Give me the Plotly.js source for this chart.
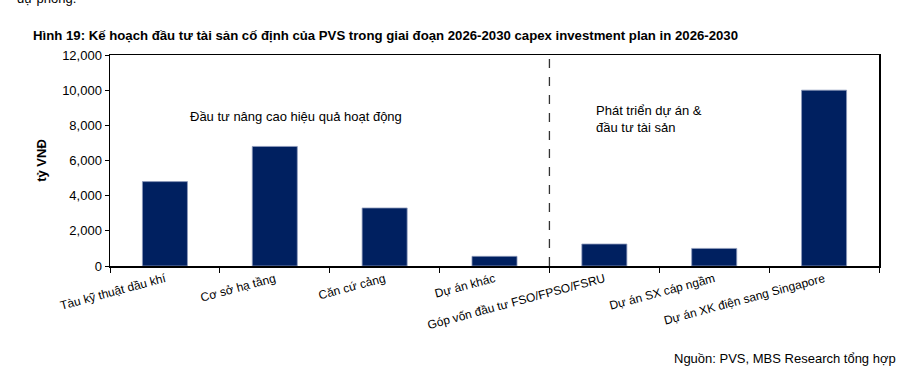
<!DOCTYPE html>
<html>
<head>
<meta charset="utf-8">
<script src="https://cdn.plot.ly/plotly-3.0.1.min.js"></script>
<style>html,body{margin:0;padding:0;background:#fff;}</style>
</head>
<body>
<div id="chart" style="width:923px;height:381px;"></div>
<script>
const categories = [
  "Tàu kỹ thuật dầu khí",
  "Cơ sở hạ tầng",
  "Căn cứ cảng",
  "Dự án khác",
  "Góp vốn đầu tư FSO/FPSO/FSRU",
  "Dự án SX cáp ngầm",
  "Dự án XK điện sang Singapore"
];
const values = [4800, 6800, 3300, 550, 1250, 1000, 10000];
const yTickVals = [0, 2000, 4000, 6000, 8000, 10000, 12000];
const titleText = "Hình 19: Kế hoạch đầu tư tài sản cố định của PVS trong giai đoạn 2026-2030 capex investment plan in 2026-2030";
const yTitle = "tỷ VNĐ";
const groupLabel1 = "Đầu tư nâng cao hiệu quả hoạt động";
const groupLabel2 = "Phát triển dự án &<br>đầu tư tài sản";
const sourceText = "Nguồn: PVS, MBS Research tổng hợp";
const topCutText = "dự phòng.";

const FONT = "Liberation Sans, Arial, sans-serif";

const trace = {
  type: "bar",
  x: categories,
  y: values,
  width: 0.41,
  marker: { color: "#002060", line: { color: "#8e9bbb", width: 0.8 } },
  hoverinfo: "none"
};

const layout = {
  width: 923,
  height: 381,
  margin: { l: 110, r: 44, t: 55, b: 115 },
  paper_bgcolor: "#ffffff",
  plot_bgcolor: "#ffffff",
  font: { family: FONT, color: "#000" },
  showlegend: false,
  title: {
    text: "<b>" + titleText + "</b>",
    font: { family: FONT, size: 13.2, color: "#000" },
    xref: "container", yref: "container",
    x: 33 / 923, xanchor: "left",
    y: 1 - 35 / 381, yanchor: "middle"
  },
  xaxis: {
    type: "category",
    tickson: "boundaries",
    ticks: "outside",
    ticklen: 5,
    tickcolor: "#000",
    tickangle: -15,
    tickfont: { family: FONT, size: 12, color: "#000" },
    showline: true,
    linecolor: "#000",
    linewidth: 1.5,
    mirror: true,
    showgrid: false,
    zeroline: false,
    fixedrange: true
  },
  yaxis: {
    range: [0, 12000],
    tickvals: yTickVals,
    tickformat: ",d",
    ticks: "outside",
    ticklen: 4,
    tickcolor: "#000",
    tickfont: { family: FONT, size: 13, color: "#000" },
    showline: true,
    linecolor: "#000",
    linewidth: 1.5,
    mirror: true,
    showgrid: false,
    zeroline: false,
    fixedrange: true,
    title: {
      text: "<b>" + yTitle + "</b>",
      font: { family: FONT, size: 13, color: "#000" },
      standoff: 12
    }
  },
  shapes: [
    {
      type: "line", xref: "x", yref: "paper",
      x0: 3.5, x1: 3.5, y0: 0, y1: 1,
      line: { color: "#333", width: 1.3, dash: "dash" }
    }
  ],
  annotations: [
    {
      text: groupLabel1, xref: "paper", yref: "paper",
      x: (188 - 110) / 769, y: (266 - 116) / 211,
      xanchor: "left", yanchor: "middle", showarrow: false,
      font: { family: FONT, size: 13, color: "#000" }
    },
    {
      text: groupLabel2, xref: "paper", yref: "paper",
      x: (594 - 110) / 769, y: (266 - 118.5) / 211,
      xanchor: "left", yanchor: "middle", align: "left", showarrow: false,
      font: { family: FONT, size: 13, color: "#000" }
    },
    {
      text: sourceText, xref: "paper", yref: "paper",
      x: (898 - 110) / 769, y: (266 - 358) / 211,
      xanchor: "right", yanchor: "middle", showarrow: false,
      font: { family: FONT, size: 13, color: "#000" }
    },
    {
      text: topCutText, xref: "paper", yref: "paper",
      x: (15 - 110) / 769, y: (266 + 2) / 211,
      xanchor: "left", yanchor: "middle", showarrow: false,
      font: { family: FONT, size: 13, color: "#000" }
    }
  ]
};

Plotly.newPlot("chart", [trace], layout, { displayModeBar: false, staticPlot: true });
</script>
</body>
</html>
